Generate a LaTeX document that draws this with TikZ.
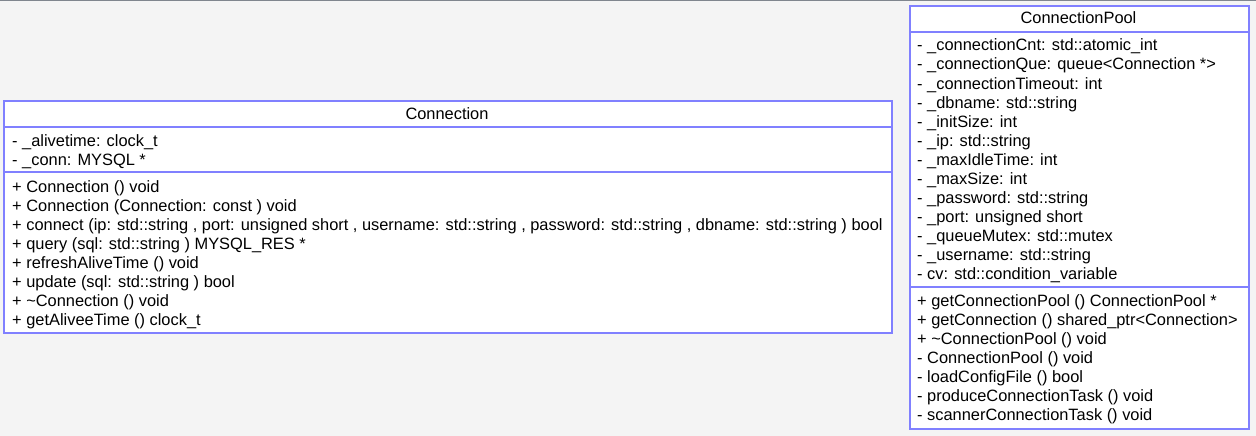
\documentclass[tikz,border=0pt]{standalone}
\usepackage{fontspec}
\setmainfont{Liberation Sans}
\definecolor{umlblue}{RGB}{128,128,255}
\definecolor{bg}{RGB}{244,244,244}
\definecolor{topline}{RGB}{128,134,142}
\tikzset{
  umlbox/.style={draw=umlblue, fill=white, line width=1.6pt, rectangle, inner sep=0pt, anchor=north west},
  umlline/.style={draw=umlblue, line width=1.6pt},
  txt/.style={anchor=base west, inner sep=0pt, font=\fontsize{16.4}{19}\selectfont, text=black},
  ttl/.style={anchor=base, inner sep=0pt, font=\fontsize{16.4}{19}\selectfont, text=black}
}
\begin{document}
\begin{tikzpicture}[x=1pt,y=-1pt]
\useasboundingbox (0,0) rectangle (1256,436);
\fill[bg] (0,0) rectangle (1256,436);
\draw[topline, line width=1.5pt] (0,0.75) -- (1256,0.75);

% Connection class
\node[umlbox, minimum width=888pt, minimum height=232pt] (conn) at (3,100) {};
\draw[umlline] (conn.north west) ++(0,27) coordinate (cd1) -- ++(888,0);
\draw[umlline] (conn.north west) ++(0,72) coordinate (cd2) -- ++(888,0);
\node[ttl] (conntitle) at (447,119) {Connection};
\node[txt] (ca1) at (12,146) {- \_alivetime: clock\_t};
\node[txt] (ca2) at (12,165) {- \_conn: MYSQL *};
\node[txt] (cm1) at (12,192) {+ Connection () void};
\node[txt] (cm2) at (12,211) {+ Connection (Connection: const ) void};
\node[txt] (cm3) at (12,230) {+ connect (ip: std::string , port: unsigned short , username: std::string , password: std::string , dbname: std::string ) bool};
\node[txt] (cm4) at (12,249) {+ query (sql: std::string ) MYSQL\_RES *};
\node[txt] (cm5) at (12,268) {+ refreshAliveTime () void};
\node[txt] (cm6) at (12,287) {+ update (sql: std::string ) bool};
\node[txt] (cm7) at (12,306) {+ \textasciitilde Connection () void};
\node[txt] (cm8) at (12,325) {+ getAliveeTime () clock\_t};

% ConnectionPool class
\node[umlbox, minimum width=339pt, minimum height=423pt] (pool) at (909,5) {};
\draw[umlline] (pool.north west) ++(0,27) coordinate (pd1) -- ++(339,0);
\draw[umlline] (pool.north west) ++(0,282) coordinate (pd2) -- ++(339,0);
\node[ttl] (pooltitle) at (1078.5,24) {ConnectionPool};
\node[txt] (pa1) at (917,51) {- \_connectionCnt: std::atomic\_int};
\node[txt] (pa2) at (917,70) {- \_connectionQue: queue<Connection *>};
\node[txt] (pa3) at (917,89) {- \_connectionTimeout: int};
\node[txt] (pa4) at (917,108) {- \_dbname: std::string};
\node[txt] (pa5) at (917,127) {- \_initSize: int};
\node[txt] (pa6) at (917,146) {- \_ip: std::string};
\node[txt] (pa7) at (917,165) {- \_maxIdleTime: int};
\node[txt] (pa8) at (917,184) {- \_maxSize: int};
\node[txt] (pa9) at (917,203) {- \_password: std::string};
\node[txt] (pa10) at (917,222) {- \_port: unsigned short};
\node[txt] (pa11) at (917,241) {- \_queueMutex: std::mutex};
\node[txt] (pa12) at (917,260) {- \_username: std::string};
\node[txt] (pa13) at (917,279) {- cv: std::condition\_variable};
\node[txt] (pm1) at (917,306) {+ getConnectionPool () ConnectionPool *};
\node[txt] (pm2) at (917,325) {+ getConnection () shared\_ptr<Connection>};
\node[txt] (pm3) at (917,344) {+ \textasciitilde ConnectionPool () void};
\node[txt] (pm4) at (917,363) {- ConnectionPool () void};
\node[txt] (pm5) at (917,382) {- loadConfigFile () bool};
\node[txt] (pm6) at (917,401) {- produceConnectionTask () void};
\node[txt] (pm7) at (917,420) {- scannerConnectionTask () void};
\end{tikzpicture}
\end{document}
